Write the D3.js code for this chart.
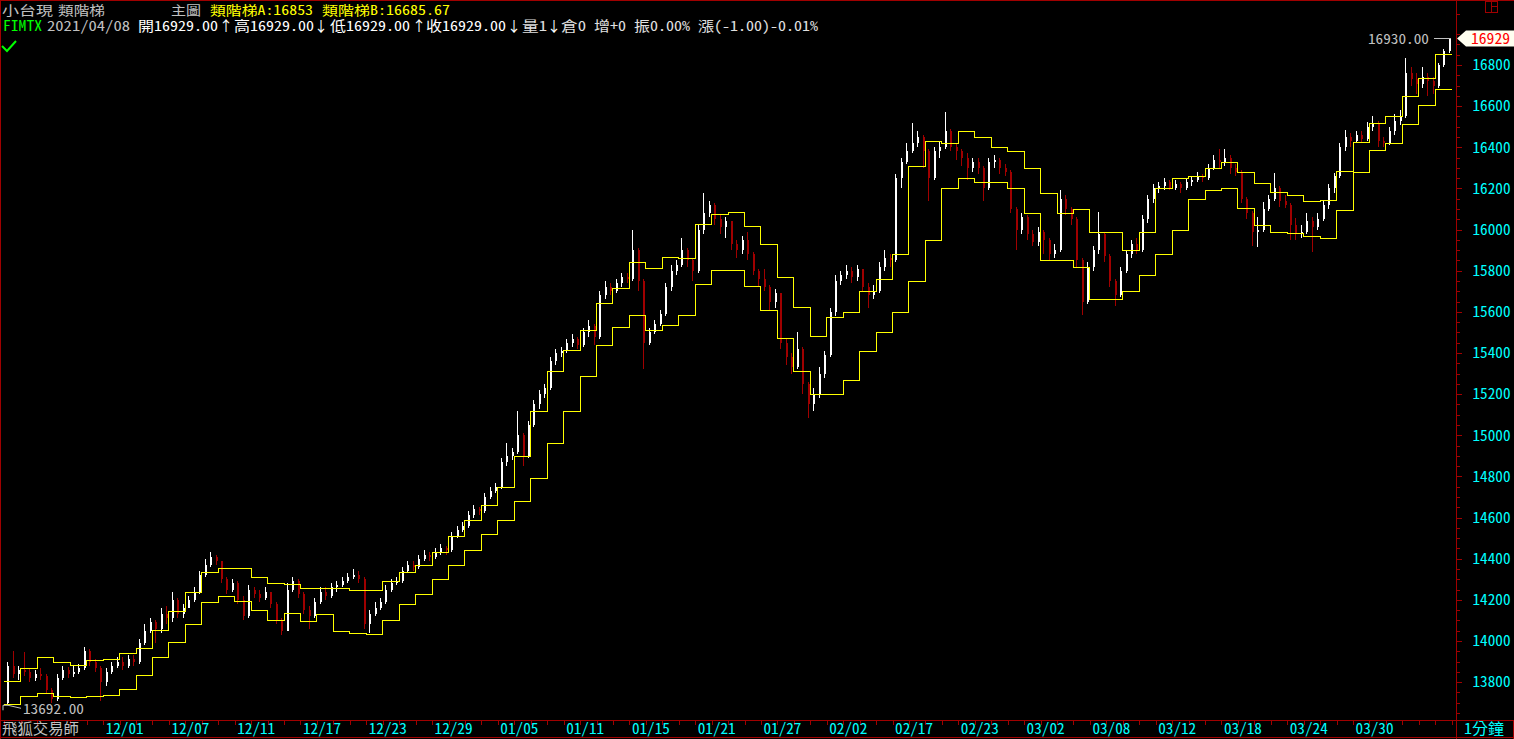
<!DOCTYPE html>
<html><head><meta charset="utf-8">
<script src="https://cdn.jsdelivr.net/npm/d3@7"></script>
<style>
html,body{margin:0;padding:0;background:#000;overflow:hidden}
svg{display:block}
text{font-family:"Noto Sans Mono CJK TC","Noto Sans CJK TC","Liberation Mono",monospace;}
</style></head><body>
<svg id="c" width="1514" height="739"></svg>
<script>
// ---------------- data ----------------
const tradeDays = ["11/23","11/24","11/25","11/26","11/27","11/30",
"12/01","12/02","12/03","12/04","12/07","12/08","12/09","12/10","12/11","12/14","12/15","12/16","12/17","12/18","12/21","12/22","12/23","12/24","12/25","12/28","12/29","12/30","12/31",
"01/04","01/05","01/06","01/07","01/08","01/11","01/12","01/13","01/14","01/15","01/18","01/19","01/20","01/21","01/22","01/25","01/26","01/27","01/28","01/29",
"02/01","02/02","02/03","02/04","02/05","02/17","02/18","02/19","02/22","02/23","02/24","02/25","02/26",
"03/02","03/03","03/04","03/05","03/08","03/09","03/10","03/11","03/12","03/15","03/16","03/17","03/18","03/19","03/22","03/23","03/24","03/25","03/26","03/29","03/30","03/31",
"04/01","04/06","04/07","04/08"];

const xTickLabels = ["12/01","12/07","12/11","12/17","12/23","12/29","01/05","01/11","01/15","01/21","01/27","02/02","02/17","02/23","03/02","03/08","03/12","03/18","03/24","03/30"];

const yTickLabels = [13800,14000,14200,14400,14600,14800,15000,15200,15400,15600,15800,16000,16200,16400,16600,16800];

// 類階梯A (one value per trading day)
const stepA = [13805,13870,13920,13896,13883,13907,13912,13940,13964,14053,
14146,14240,14334,14356,14353,14309,14280,14277,14256,14256,
14256,14250,14250,14290,14335,14370,14430,14510,14590,14660,
14750,14900,15120,15310,15415,15510,15641,15714,15844,15811,
15868,15860,16025,16074,16084,16017,15930,15768,15622,15483,
15576,15600,15700,15760,15880,16310,16430,16420,16480,16450,
16400,16380,16300,16180,16080,16100,15990,15990,15900,15990,
16200,16250,16260,16300,16330,16281,16225,16181,16166,16139,
16144,16285,16427,16516,16552,16651,16735,16853];

// 類階梯B (one value per trading day)
const stepB = [13692,13732,13745,13732,13727,13732,13737,13765,13834,13924,
13993,14082,14188,14219,14194,14150,14102,14137,14097,14131,
14050,14040,14035,14100,14180,14230,14300,14370,14440,14520,
14590,14680,14790,14960,15120,15290,15439,15525,15583,15512,
15536,15583,15734,15802,15802,15726,15609,15471,15312,15200,
15200,15270,15410,15500,15600,15750,15950,16200,16250,16230,
16230,16200,16080,15850,15850,15820,15660,15660,15700,15780,
15880,16000,16150,16190,16200,16103,16022,15986,15982,15969,
15961,16095,16278,16387,16419,16512,16605,16685.67];

const firstOpen = 13700;
// price bars: three per trading day, each [close, high, low]
const candles = [
[[13880,13900,13692],[13840,13950,13820],[13860,13880,13810]],
[[13850,13945,13830],[13820,13870,13800],[13840,13860,13805]],
[[13830,13870,13810],[13760,13840,13740],[13720,13770,13700]],
[[13820,13840,13710],[13860,13880,13810],[13840,13875,13820]],
[[13850,13880,13825],[13870,13890,13840],[13950,13970,13860]],
[[13900,13960,13880],[13870,13910,13850],[13800,13880,13710]],
[[13850,13870,13780],[13880,13900,13840],[13900,13920,13870]],
[[13880,13920,13860],[13910,13930,13870],[13900,13930,13880]],
[[13990,14010,13890],[14050,14080,13980],[14090,14110,14040]],
[[14060,14100,13990],[14130,14160,14040],[14110,14170,14080]],
[[14200,14240,14090],[14130,14210,14110],[14160,14180,14110]],
[[14200,14220,14160],[14240,14260,14190],[14320,14340,14230]],
[[14370,14400,14310],[14410,14430,14360],[14390,14420,14370]],
[[14300,14390,14280],[14250,14310,14230],[14280,14300,14240]],
[[14200,14290,14180],[14120,14220,14100],[14250,14270,14110]],
[[14230,14260,14210],[14210,14250,14190],[14240,14260,14200]],
[[14180,14240,14160],[14100,14190,14080],[14050,14110,14030]],
[[14250,14280,14050],[14290,14310,14240],[14230,14300,14210]],
[[14150,14240,14130],[14120,14170,14060],[14190,14210,14110]],
[[14240,14260,14180],[14220,14260,14200],[14260,14280,14210]],
[[14270,14290,14240],[14290,14310,14260],[14310,14330,14280]],
[[14320,14350,14300],[14300,14340,14280],[14080,14310,14060]],
[[14130,14150,14040],[14160,14190,14120],[14190,14210,14150]],
[[14250,14270,14180],[14280,14300,14240],[14290,14310,14270]],
[[14340,14360,14280],[14370,14390,14330],[14360,14390,14340]],
[[14400,14420,14350],[14420,14440,14390],[14410,14430,14390]],
[[14430,14450,14400],[14450,14470,14420],[14440,14460,14420]],
[[14510,14530,14430],[14540,14560,14500],[14560,14580,14530]],
[[14610,14630,14550],[14640,14660,14600],[14630,14650,14610]],
[[14700,14720,14620],[14730,14750,14690],[14750,14770,14720]],
[[14870,14890,14740],[14900,14960,14850],[14920,14940,14880]],
[[15000,15120,14910],[14900,15010,14850],[15050,15070,14890]],
[[15150,15170,15040],[15200,15220,15130],[15230,15250,15180]],
[[15360,15380,15220],[15400,15420,15340],[15410,15430,15380]],
[[15450,15470,15400],[15470,15490,15430],[15440,15480,15420]],
[[15500,15520,15430],[15530,15560,15480],[15480,15540,15440]],
[[15680,15700,15470],[15720,15750,15660],[15700,15740,15680]],
[[15740,15760,15690],[15770,15790,15720],[15760,15790,15740]],
[[15900,16000,15750],[15750,15910,15700],[15450,15760,15320]],
[[15500,15520,15440],[15540,15560,15490],[15590,15610,15530]],
[[15720,15740,15580],[15800,15830,15700],[15830,15850,15780]],
[[15900,15960,15820],[15850,15910,15820],[15800,15860,15750]],
[[16000,16020,15790],[16080,16180,15980],[16120,16140,16060]],
[[16050,16130,16020],[16010,16070,15980],[16040,16060,15960]],
[[15930,16040,15900],[15900,15950,15860],[15950,15970,15880]],
[[15880,15990,15850],[15800,15890,15780],[15760,15810,15720]],
[[15720,15810,15700],[15650,15730,15610],[15690,15710,15620]],
[[15450,15690,15420],[15380,15470,15340],[15330,15400,15300]],
[[15420,15500,15320],[15250,15430,15200],[15150,15260,15085]],
[[15200,15230,15120],[15300,15330,15180],[15390,15410,15280]],
[[15600,15620,15380],[15750,15780,15580],[15780,15800,15730]],
[[15800,15830,15760],[15770,15820,15740],[15810,15830,15750]],
[[15720,15810,15700],[15680,15740,15620],[15700,15730,15660]],
[[15820,15840,15690],[15860,15900,15800],[15850,15880,15820]],
[[16250,16270,15840],[16330,16350,16200],[16380,16420,16320]],
[[16420,16520,16370],[16450,16480,16400],[16380,16460,16300]],
[[16250,16390,16140],[16380,16400,16240],[16400,16430,16350]],
[[16480,16570,16390],[16400,16490,16380],[16380,16420,16340]],
[[16350,16390,16310],[16300,16370,16240],[16330,16350,16280]],
[[16300,16350,16270],[16200,16310,16140],[16330,16350,16190]],
[[16340,16360,16300],[16300,16350,16270],[16280,16320,16260]],
[[16100,16290,16080],[16000,16110,15900],[16060,16080,15980]],
[[15980,16070,15950],[15940,16000,15920],[15990,16010,15920]],
[[15950,16000,15880],[15880,15960,15850],[15900,15930,15860]],
[[16150,16190,15890],[16100,16170,16070],[16050,16110,16020]],
[[15850,16060,15820],[15650,15860,15585],[15820,15840,15640]],
[[15900,15920,15800],[15980,16085,15880],[15870,15990,15840]],
[[15750,15880,15720],[15680,15760,15630],[15800,15820,15670]],
[[15880,15900,15790],[15930,15950,15860],[15900,15960,15880]],
[[16050,16070,15890],[16150,16170,16030],[16200,16220,16130]],
[[16210,16230,16180],[16230,16250,16190],[16200,16240,16190]],
[[16220,16240,16190],[16200,16230,16180],[16230,16250,16190]],
[[16240,16260,16210],[16260,16280,16230],[16250,16270,16230]],
[[16300,16320,16240],[16340,16360,16290],[16330,16390,16300]],
[[16350,16390,16310],[16300,16360,16270],[16280,16320,16260]],
[[16150,16290,16130],[16080,16160,16050],[15990,16090,15920]],
[[16000,16060,15915],[16100,16135,15990],[16150,16170,16090]],
[[16200,16275,16140],[16140,16210,16110],[16120,16170,16105]],
[[16020,16130,15950],[15980,16055,15950],[15990,16020,15960]],
[[16040,16080,15980],[16010,16060,15890],[16050,16080,16000]],
[[16120,16140,16040],[16200,16220,16100],[16260,16275,16180]],
[[16400,16420,16250],[16450,16485,16380],[16430,16470,16400]],
[[16460,16480,16420],[16440,16480,16420],[16500,16525,16430]],
[[16520,16550,16480],[16430,16530,16400],[16420,16450,16400]],
[[16480,16500,16410],[16530,16560,16460],[16550,16580,16510]],
[[16760,16835,16540],[16730,16790,16700],[16710,16760,16660]],
[[16740,16790,16690],[16720,16760,16650],[16700,16740,16660]],
[[16800,16810,16690],[16870,16880,16790],[16929,16930,16860]]
];

// ---------------- drawing ----------------
const W = 1514, H = 739;
const FRAME = "#a00000", UP = "#ffffff", DOWN = "#a00000", CYAN = "#00ffff", GRAY = "#c0c0c0";
const svg = d3.select("#c");
svg.append("rect").attr("width", W).attr("height", H).attr("fill", "#000");

const x = d3.scaleLinear().domain([-0.15, 88.2]).range([2, 1455]);
const y = d3.scaleLinear().domain([13615.6, 17101.4]).range([720, 3]);

// bars
const bars = [];
candles.forEach((day, d) => day.forEach((c, k) => bars.push({d, k, c: c[0], h: c[1], l: c[2]})));
let prev = firstOpen;
bars.forEach(b => { b.o = prev; prev = b.c; b.xc = Math.round(x(b.d + (b.k + 0.5) / 3)); });

const gBars = svg.append("g").attr("shape-rendering", "crispEdges");
gBars.selectAll("line").data(bars).join("line")
  .attr("x1", b => b.xc + 0.5).attr("x2", b => b.xc + 0.5)
  .attr("y1", b => y(b.h)).attr("y2", b => y(b.l))
  .attr("stroke", b => b.c >= b.o ? UP : DOWN).attr("stroke-width", 1);
gBars.selectAll("rect").data(bars).join("rect")
  .attr("x", b => b.xc - 0.5).attr("width", 2)
  .attr("y", b => y(Math.max(b.o, b.c)))
  .attr("height", b => Math.max(1, Math.abs(y(b.o) - y(b.c))))
  .attr("fill", b => b.c >= b.o ? UP : DOWN);

// step lines
const stepLine = d3.line().x(p => x(p[0])).y(p => Math.round(y(p[1])) + 0.5).curve(d3.curveStepAfter);
[stepA, stepB].forEach(s => {
  const pts = s.map((v, i) => [i, v]);
  pts.push([s.length, s[s.length - 1]]);
  svg.append("path").attr("d", stepLine(pts)).attr("fill", "none")
    .attr("stroke", "#ffff00").attr("stroke-width", 1).attr("shape-rendering", "crispEdges");
});

// frame
const frame = svg.append("g").attr("stroke", FRAME).attr("stroke-width", 1).attr("shape-rendering", "crispEdges");
[[0,0.5,W,0.5],[0.5,0,0.5,H],[1456.5,0,1456.5,H],[0,720.5,W,720.5],[0,737.5,W,737.5],[1513.5,720,1513.5,H]]
  .forEach(l => frame.append("line").attr("x1", l[0]).attr("y1", l[1]).attr("x2", l[2]).attr("y2", l[3]));

// right axis
const minorVals = d3.range(13650, 17100, 50).filter(v => v % 200 !== 0);
const gMinor = svg.append("g").attr("transform", "translate(1456.5,0)")
  .call(d3.axisRight(y).tickValues(minorVals).tickSize(3).tickFormat(""));
const gRight = svg.append("g").attr("transform", "translate(1456.5,0)")
  .call(d3.axisRight(y).tickValues(yTickLabels).tickSize(5).tickPadding(11).tickFormat(d3.format("d")));
[gMinor, gRight].forEach(g => { g.select(".domain").remove(); g.selectAll("line").attr("stroke", FRAME).attr("shape-rendering", "crispEdges"); });
gRight.selectAll("text").attr("fill", CYAN).style("font-size", "15px")
  .attr("textLength", 38).attr("lengthAdjust", "spacingAndGlyphs");

// bottom axis: one tick per trading day, labels every 4 days
const gDays = svg.append("g").attr("transform", "translate(0,720.5)")
  .call(d3.axisBottom(x).tickValues(d3.range(0, tradeDays.length + 1)).tickSize(4).tickFormat(""));
gDays.select(".domain").remove();
gDays.selectAll("line").attr("stroke", FRAME).attr("shape-rendering", "crispEdges");
const labelIdx = xTickLabels.map(s => tradeDays.indexOf(s));
const gLab = svg.append("g").attr("transform", "translate(0,721)")
  .call(d3.axisBottom(x).tickValues(labelIdx).tickSize(0).tickPadding(2).tickFormat(i => tradeDays[i]));
gLab.select(".domain").remove();
gLab.selectAll("text").attr("fill", CYAN).style("font-size", "15px").attr("text-anchor", "start")
  .attr("dx", 2).attr("textLength", 38).attr("lengthAdjust", "spacingAndGlyphs");

// texts
function txt(s, tx, ty, col, w, anchor, fs) {
  const t = svg.append("text").attr("x", tx).attr("y", ty).attr("fill", col)
    .style("font-size", (fs || 14) + "px").attr("text-anchor", anchor || "start").text(s);
  if (w) t.attr("textLength", w).attr("lengthAdjust", "spacingAndGlyphs");
  return t;
}
const fmt2 = d3.format(".2f");
const lastA = stepA[stepA.length - 1], lastB = stepB[stepB.length - 1];
txt("小台現", 2, 15, GRAY, 51, "start", 13);
txt("類階梯", 58, 15, GRAY, 47, "start", 13);
txt("主圖", 171, 15, GRAY, 30, "start", 13);
txt("類階梯A:" + lastA, 210, 15, "#ffff00", 103, "start", 13);
txt("類階梯B:" + fmt2(lastB), 322, 15, "#ffff00", 128, "start", 13);

txt("FIMTX", 3, 31, "#00ff00", 39);
txt("2021/04/08", 47, 31, GRAY, 83);
txt("開16929.00", 138, 31, "#ffffff", 80);
txt("↑", 226, 31, "#ffffff", null, "middle");
txt("高16929.00", 234, 31, "#ffffff", 80);
txt("↓", 321, 31, "#ffffff", null, "middle");
txt("低16929.00", 330, 31, "#ffffff", 80);
txt("↑", 419, 31, "#ffffff", null, "middle");
txt("收16929.00", 426, 31, "#ffffff", 80);
txt("↓", 514, 31, "#ffffff", null, "middle");
txt("量1", 522, 31, "#e0e0e0", 25);
txt("↓", 554, 31, "#ffffff", null, "middle");
txt("倉0", 561, 31, "#e0e0e0", 25);
txt("增+0", 594, 31, "#e0e0e0", 32);
txt("振0.00%", 634, 31, "#e0e0e0", 56);
txt("漲(-1.00)-0.01%", 698, 31, "#e0e0e0", 120);

svg.append("polyline").attr("points", "2,46 7,51 16,41").attr("fill", "none")
  .attr("stroke", "#00ff00").attr("stroke-width", 2);

txt("飛狐交易師", 2, 734, GRAY, 77, "start", 15);
txt("1分鐘", 1464, 734, CYAN, 40, "start", 15);

// top-right icon
const ic = svg.append("g").attr("stroke", FRAME).attr("fill", "none").attr("shape-rendering", "crispEdges");
ic.append("rect").attr("x", 1485.5).attr("y", 1.5).attr("width", 12).attr("height", 11);
ic.append("line").attr("x1", 1491.5).attr("x2", 1491.5).attr("y1", 1.5).attr("y2", 12.5);
ic.append("line").attr("x1", 1491.5).attr("x2", 1497.5).attr("y1", 6.5).attr("y2", 6.5);

// max / min markers
const hiBar = bars.reduce((a, b) => b.h > a.h ? b : a);
const loBar = bars.reduce((a, b) => b.l < a.l ? b : a);
const yh = Math.round(y(hiBar.h)) + 0.5;
svg.append("line").attr("x1", hiBar.xc - 15).attr("x2", hiBar.xc + 2).attr("y1", yh).attr("y2", yh)
  .attr("stroke", GRAY).attr("shape-rendering", "crispEdges");
txt(fmt2(hiBar.h), hiBar.xc - 20, yh + 5, GRAY, 61, "end");
const yl = y(loBar.l);
svg.append("polyline").attr("points", `${loBar.xc - 4},${yl + 6} ${loBar.xc - 4},${yl + 1} ${loBar.xc + 1},${yl + 1} ${loBar.xc + 14},${yl + 4}`)
  .attr("fill", "none").attr("stroke", GRAY);
txt(fmt2(loBar.l), loBar.xc + 16, yl + 10, GRAY, 61);

// last price tag
const last = bars[bars.length - 1];
const yt = y(last.c);
svg.append("polygon")
  .attr("points", `1457,${yt} 1466,${yt - 8} 1514,${yt - 8} 1514,${yt + 8} 1466,${yt + 8}`)
  .attr("fill", "#fffff0");
txt(d3.format("d")(last.c), 1471, yt + 5.5, "#ff0000", 39, "start", 15);
</script>
</body></html>
